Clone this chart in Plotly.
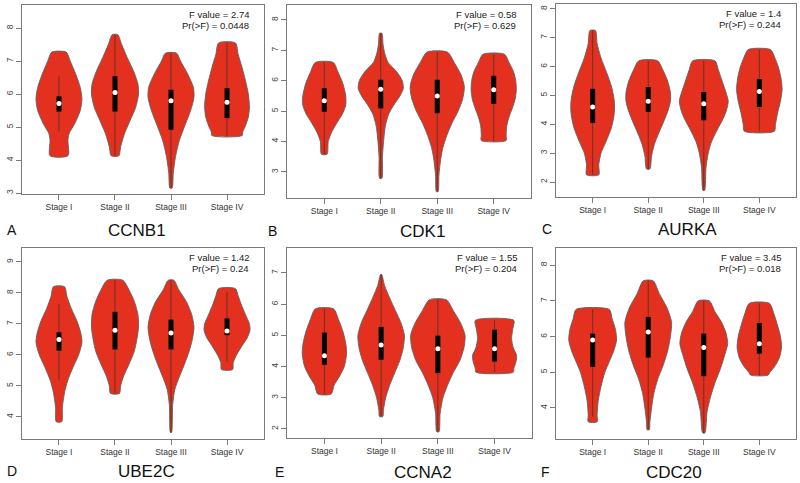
import plotly.graph_objects as go

# ---------------- data ----------------
STAGES = ["Stage I", "Stage II", "Stage III", "Stage IV"]
GENES = ["CCNB1", "CDK1", "AURKA", "UBE2C", "CCNA2", "CDC20"]
PANEL_LETTERS = ["A", "B", "C", "D", "E", "F"]
F_VALUES = ["2.74", "0.58", "1.4", "1.42", "1.55", "3.45"]
P_VALUES = ["0.0448", "0.629", "0.244", "0.24", "0.204", "0.018"]
Y_TICKS = [[3, 4, 5, 6, 7, 8], [3, 4, 5, 6, 7, 8], [2, 3, 4, 5, 6, 7, 8],
           [4, 5, 6, 7, 8, 9], [2, 3, 4, 5, 6, 7], [4, 5, 6, 7, 8]]

# violin profiles: expression levels (top -> bottom) and relative density half-width
CCNB1_LEVELS = [
    [7.27, 7.0, 6.6, 6.2, 5.85, 5.5, 5.1, 4.8, 4.6, 4.13],
    [7.8, 7.5, 7.1, 6.7, 6.3, 6.0, 5.6, 5.2, 4.8, 4.4, 4.13],
    [7.24, 7.0, 6.6, 6.2, 5.9, 5.5, 5.1, 4.6, 4.1, 3.6, 3.15],
    [7.55, 7.2, 6.8, 6.4, 6.0, 5.6, 5.3, 5.0, 4.85, 4.74],
]
CCNB1_DENSITY = [
    [0.13, 0.2, 0.3, 0.38, 0.41, 0.38, 0.28, 0.18, 0.16, 0.16],
    [0.05, 0.12, 0.22, 0.33, 0.41, 0.42, 0.37, 0.27, 0.17, 0.1, 0.07],
    [0.1, 0.17, 0.3, 0.4, 0.41, 0.35, 0.26, 0.15, 0.08, 0.04, 0.02],
    [0.15, 0.2, 0.27, 0.33, 0.38, 0.4, 0.38, 0.32, 0.28, 0.27],
]
CDK1_LEVELS = [
    [6.6, 6.3, 5.9, 5.5, 5.2, 4.9, 4.6, 4.3, 4.0, 3.58],
    [7.56, 7.2, 6.9, 6.6, 6.3, 6.0, 5.75, 5.5, 5.2, 4.9, 4.5, 4.0, 3.5, 2.79],
    [6.94, 6.6, 6.2, 5.8, 5.4, 5.0, 4.6, 4.2, 3.8, 3.4, 2.9, 2.35],
    [6.87, 6.6, 6.3, 6.0, 5.7, 5.4, 5.1, 4.8, 4.5, 4.2, 4.03],
]
CDK1_DENSITY = [
    [0.16, 0.24, 0.33, 0.38, 0.38, 0.32, 0.22, 0.13, 0.07, 0.05],
    [0.02, 0.04, 0.07, 0.13, 0.28, 0.38, 0.4, 0.34, 0.23, 0.14, 0.08, 0.05, 0.03, 0.02],
    [0.18, 0.3, 0.42, 0.48, 0.45, 0.37, 0.26, 0.17, 0.1, 0.06, 0.03, 0.015],
    [0.19, 0.27, 0.35, 0.39, 0.4, 0.38, 0.33, 0.27, 0.23, 0.22, 0.22],
]
AURKA_LEVELS = [
    [7.25, 6.8, 6.3, 5.8, 5.3, 4.8, 4.4, 3.9, 3.4, 3.0, 2.6, 2.25],
    [6.2, 5.9, 5.5, 5.1, 4.8, 4.5, 4.1, 3.7, 3.3, 2.9, 2.45],
    [6.2, 5.9, 5.5, 5.1, 4.8, 4.5, 4.2, 3.8, 3.4, 3.0, 2.5, 1.71],
    [6.59, 6.3, 6.0, 5.6, 5.2, 4.8, 4.4, 4.0, 3.76],
]
AURKA_DENSITY = [
    [0.05, 0.08, 0.15, 0.25, 0.34, 0.39, 0.39, 0.34, 0.24, 0.15, 0.11, 0.11],
    [0.17, 0.26, 0.35, 0.4, 0.4, 0.36, 0.28, 0.19, 0.11, 0.06, 0.03],
    [0.2, 0.26, 0.33, 0.4, 0.44, 0.41, 0.35, 0.24, 0.14, 0.08, 0.04, 0.015],
    [0.2, 0.28, 0.34, 0.39, 0.41, 0.38, 0.33, 0.29, 0.27],
]
UBE2C_LEVELS = [
    [8.2, 7.9, 7.5, 7.1, 6.7, 6.4, 6.0, 5.6, 5.2, 4.8, 4.3, 3.85],
    [8.41, 8.1, 7.7, 7.3, 6.9, 6.5, 6.1, 5.7, 5.3, 5.0, 4.76],
    [8.41, 8.1, 7.7, 7.3, 6.9, 6.5, 6.1, 5.7, 5.3, 4.9, 4.4, 3.5],
    [8.14, 7.9, 7.6, 7.3, 7.0, 6.8, 6.55, 6.3, 6.0, 5.75, 5.53],
]
UBE2C_DENSITY = [
    [0.1, 0.14, 0.22, 0.32, 0.39, 0.41, 0.35, 0.25, 0.16, 0.1, 0.06, 0.05],
    [0.14, 0.25, 0.35, 0.41, 0.42, 0.39, 0.34, 0.25, 0.15, 0.1, 0.08],
    [0.05, 0.14, 0.28, 0.37, 0.41, 0.38, 0.32, 0.24, 0.15, 0.07, 0.03, 0.01],
    [0.15, 0.2, 0.26, 0.33, 0.4, 0.41, 0.36, 0.27, 0.17, 0.11, 0.1],
]
CCNA2_LEVELS = [
    [5.85, 5.5, 5.1, 4.7, 4.4, 4.0, 3.7, 3.4, 3.12],
    [6.95, 6.6, 6.2, 5.8, 5.4, 5.0, 4.6, 4.2, 3.8, 3.4, 3.0, 2.6, 2.4],
    [6.14, 5.8, 5.4, 5.0, 4.6, 4.2, 3.8, 3.4, 3.0, 2.5, 1.91],
    [5.48, 5.2, 4.9, 4.6, 4.35, 4.1, 3.95, 3.82],
]
CCNA2_DENSITY = [
    [0.16, 0.25, 0.33, 0.38, 0.39, 0.35, 0.27, 0.17, 0.12],
    [0.01, 0.06, 0.15, 0.25, 0.35, 0.41, 0.39, 0.33, 0.24, 0.15, 0.08, 0.04, 0.03],
    [0.15, 0.27, 0.4, 0.48, 0.46, 0.39, 0.27, 0.17, 0.09, 0.04, 0.02],
    [0.34, 0.32, 0.3, 0.33, 0.39, 0.37, 0.34, 0.33],
]
CDC20_LEVELS = [
    [6.76, 6.5, 6.2, 5.9, 5.6, 5.3, 5.0, 4.6, 4.2, 3.8, 3.61],
    [7.56, 7.2, 6.8, 6.4, 6.0, 5.6, 5.2, 4.8, 4.4, 4.0, 3.6, 3.39],
    [7.0, 6.7, 6.4, 6.1, 5.8, 5.5, 5.1, 4.7, 4.3, 3.9, 3.3],
    [6.93, 6.6, 6.3, 6.0, 5.7, 5.4, 5.15, 5.0, 4.92],
]
CDC20_DENSITY = [
    [0.3, 0.35, 0.41, 0.43, 0.38, 0.3, 0.22, 0.15, 0.1, 0.08, 0.08],
    [0.09, 0.2, 0.34, 0.42, 0.4, 0.35, 0.27, 0.17, 0.1, 0.06, 0.03, 0.02],
    [0.1, 0.2, 0.32, 0.4, 0.43, 0.38, 0.3, 0.2, 0.12, 0.06, 0.02],
    [0.18, 0.27, 0.33, 0.38, 0.4, 0.36, 0.27, 0.19, 0.16],
]

# box statistics per gene (Stage I..IV)
Q1 = [[5.47, 5.47, 4.92, 5.27], [4.98, 5.09, 4.93, 5.24], [4.05, 4.43, 4.14, 4.6],
      [6.14, 6.18, 6.18, 6.64], [4.06, 4.22, 3.79, 4.16], [5.15, 5.41, 4.89, 5.52]]
MEDIAN = [[5.71, 6.05, 5.8, 5.75], [5.34, 5.72, 5.5, 5.7], [4.6, 4.8, 4.71, 5.14],
          [6.5, 6.8, 6.71, 6.77], [4.35, 4.69, 4.57, 4.57], [5.9, 6.13, 5.69, 5.8]]
Q3 = [[5.93, 6.54, 6.13, 6.18], [5.75, 6.03, 6.03, 6.16], [5.23, 5.29, 5.12, 5.57],
      [6.73, 7.39, 7.14, 7.18], [5.09, 5.27, 4.99, 5.18], [6.08, 6.55, 6.08, 6.38]]
WHISKER_LO = [[4.87, 4.13, 3.15, 4.74], [3.58, 2.79, 2.35, 4.03], [2.25, 2.45, 1.71, 3.76],
              [5.2, 4.76, 3.5, 5.78], [3.12, 2.4, 1.91, 3.82], [3.75, 3.39, 3.3, 4.92]]
WHISKER_HI = [[6.54, 7.8, 7.24, 7.55], [6.6, 7.56, 6.94, 6.87], [7.25, 6.2, 6.2, 6.59],
              [7.65, 8.41, 8.41, 8.03], [5.85, 6.95, 6.14, 5.48], [6.76, 7.56, 7.0, 6.93]]

LEVELS = [CCNB1_LEVELS, CDK1_LEVELS, AURKA_LEVELS, UBE2C_LEVELS, CCNA2_LEVELS, CDC20_LEVELS]
DENSITY = [CCNB1_DENSITY, CDK1_DENSITY, AURKA_DENSITY, UBE2C_DENSITY, CCNA2_DENSITY, CDC20_DENSITY]

# ---------------- layout (pixels of the 800x483 page) ----------------
W, H = 800, 483
PANEL_BOX = [(22, 264, 5, 194), (287, 531, 5, 198), (556, 796, 4, 197),
             (22, 264, 248, 439), (287, 532, 248, 438), (556, 796, 248, 439)]
Y_RANGES = [(2.97, 8.70), (2.14, 8.49), (1.48, 8.17), (3.29, 9.45), (1.71, 7.80), (3.13, 8.48)]
X_RANGE = (0.34, 4.66)
LABEL_Y = [230, 231, 229, 471, 472, 472]
GENE_X = [137, 422, 687, 146, 423, 674]
LETTER_X = [12, 272, 547, 12, 279, 545]

FONT = "Liberation Sans, Arial, sans-serif"
FILL = "#E3301F"
OUTLINE = "#616161"
AXIS = "#7a7a7a"

fig = go.Figure()
layout = dict(
    width=W, height=H, margin=dict(l=0, r=0, t=0, b=0),
    paper_bgcolor="white", plot_bgcolor="white", showlegend=False,
    font=dict(family=FONT, color="#333333"),
)
annotations = []

for p in range(6):
    idx = "" if p == 0 else str(p + 1)
    xa, ya = "x" + idx, "y" + idx
    x0, x1, y0, y1 = PANEL_BOX[p]
    layout["xaxis" + idx] = dict(
        domain=[x0 / W, x1 / W], range=list(X_RANGE), anchor=ya,
        tickmode="array", tickvals=[1, 2, 3, 4], ticktext=STAGES,
        ticks="outside", ticklen=5, tickcolor=AXIS, tickwidth=1,
        showline=True, linecolor=AXIS, linewidth=1, mirror=True,
        showgrid=False, zeroline=False, fixedrange=True,
        tickfont=dict(family=FONT, size=8.5, color="#333333"),
    )
    layout["yaxis" + idx] = dict(
        domain=[1 - y1 / H, 1 - y0 / H], range=list(Y_RANGES[p]), anchor=xa,
        tickmode="array", tickvals=Y_TICKS[p], ticktext=[str(v) for v in Y_TICKS[p]],
        ticks="outside", ticklen=5, tickcolor=AXIS, tickwidth=1, tickangle=-90,
        showline=True, linecolor=AXIS, linewidth=1, mirror=True,
        showgrid=False, zeroline=False, fixedrange=True,
        tickfont=dict(family=FONT, size=8.5, color="#444444"),
    )

    for s in range(4):
        c = s + 1
        lv = LEVELS[p][s]
        dn = DENSITY[p][s]
        xs = [c + d for d in dn] + [c - d for d in reversed(dn)] + [c + dn[0]]
        ys = list(lv) + list(reversed(lv)) + [lv[0]]
        fig.add_trace(go.Scatter(
            x=xs, y=ys, xaxis=xa, yaxis=ya, mode="lines", fill="toself",
            fillcolor=FILL, line=dict(color=OUTLINE, width=0.9, shape="spline", smoothing=0.7),
            hoverinfo="skip"))
        fig.add_trace(go.Scatter(
            x=[c, c], y=[WHISKER_LO[p][s], WHISKER_HI[p][s]], xaxis=xa, yaxis=ya,
            mode="lines", line=dict(color="#6b3324", width=1), hoverinfo="skip"))
        fig.add_trace(go.Scatter(
            x=[c, c], y=[Q1[p][s], Q3[p][s]], xaxis=xa, yaxis=ya,
            mode="lines", line=dict(color="black", width=5), hoverinfo="skip"))
        fig.add_trace(go.Scatter(
            x=[c], y=[MEDIAN[p][s]], xaxis=xa, yaxis=ya, mode="markers",
            marker=dict(color="white", size=5, line=dict(width=0)), hoverinfo="skip"))

    annotations.append(dict(
        x=(x1 - 14) / W, y=1 - (y0 + 9.5) / H, xref="paper", yref="paper",
        xanchor="right", yanchor="middle", showarrow=False, borderpad=0,
        text="F value = " + F_VALUES[p], font=dict(family=FONT, size=9.5, color="#222222")))
    annotations.append(dict(
        x=(x1 - 14) / W, y=1 - (y0 + 20.5) / H, xref="paper", yref="paper",
        xanchor="right", yanchor="middle", showarrow=False, borderpad=0,
        text="Pr(>F) = " + P_VALUES[p], font=dict(family=FONT, size=9.5, color="#222222")))
    annotations.append(dict(
        x=GENE_X[p] / W, y=1 - LABEL_Y[p] / H, xref="paper", yref="paper",
        xanchor="center", yanchor="middle", showarrow=False,
        text=GENES[p], font=dict(family=FONT, size=17, color="#111111")))
    annotations.append(dict(
        x=LETTER_X[p] / W, y=1 - LABEL_Y[p] / H, xref="paper", yref="paper",
        xanchor="center", yanchor="middle", showarrow=False,
        text=PANEL_LETTERS[p], font=dict(family=FONT, size=14, color="#111111")))

layout["annotations"] = annotations
fig.update_layout(**layout)
fig.write_html(
    "out.html",
    config={"displayModeBar": False, "staticPlot": True},
    post_script="document.body.style.margin='0';document.body.style.overflow='hidden';",
)
